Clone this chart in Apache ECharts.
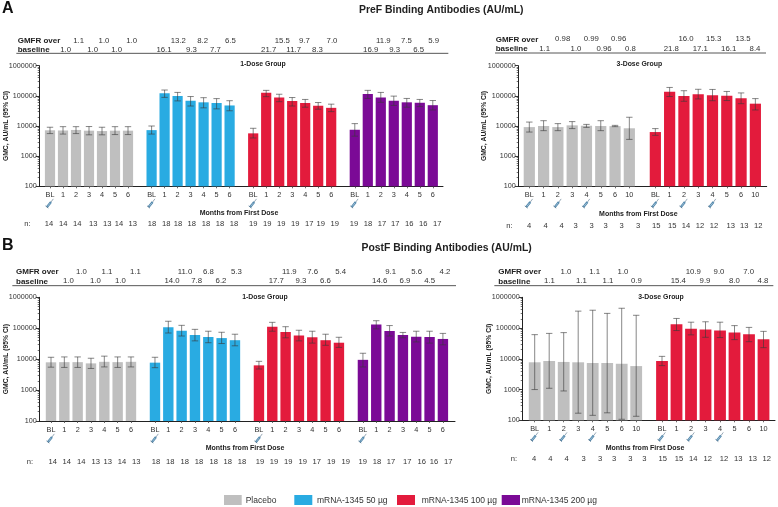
<!DOCTYPE html>
<html><head><meta charset="utf-8">
<style>html,body{margin:0;padding:0;background:#fff}#c{width:778px;height:507px;filter:blur(0.3px)}</style>
<script src="https://cdn.jsdelivr.net/npm/echarts@6/dist/echarts.min.js"></script>
</head><body><div id="c"></div>
<script>
// ---------- categories ----------
const monthsOne = ['BL','1','2','3','4','5','6'];
const monthsThree = ['BL','1','2','3','4','5','6','10'];
const seriesNames = ['Placebo','mRNA-1345 50 µg','mRNA-1345 100 µg','mRNA-1345 200 µg'];
const seriesColors = ['#bfbfbf','#29abe2','#e31b3c','#7b0a96'];
const yTicks = [100,1000,10000,100000,1000000];

// ---------- values: [GMC, lower CI, upper CI] ----------
const prefOnePlacebo = [[7200,5600,9100],[7100,5400,9500],[7400,5600,9500],[7000,5100,9600],[6800,5100,9100],[7000,5200,9500],[7000,5200,9500]];
const prefOne50 = [[7300,5400,10000],[121000,89000,156000],[99000,68000,130000],[69000,46000,95000],[61000,40000,87000],[58000,37000,81000],[48000,32000,69000]];
const prefOne100 = [[5700,4000,8400],[126000,94000,152000],[89000,64000,113000],[67000,46000,88000],[58000,42000,76000],[47000,36000,60000],[40000,30000,53000]];
const prefOne200 = [[7500,4600,12000],[115000,82000,152000],[89000,61000,130000],[69000,48000,98000],[61000,42000,82000],[59000,44000,76000],[49000,34000,70000]];
const prefThreePlacebo = [[9200,6300,13500],[10000,7000,15000],[9200,7000,12000],[10500,8200,14000],[10200,9000,11300],[10000,7000,15000],[9900,9500,10500],[8400,3600,19500]];
const prefThree100 = [[6300,4900,8200],[137000,95000,190000],[99000,66000,148000],[113000,79000,165000],[105000,69000,163000],[101000,70000,140000],[84000,55000,125000],[55000,34000,81000]];
const postfOnePlacebo = [[7900,5500,11500],[8000,5400,11800],[8000,5400,11800],[7300,5000,10700],[8200,5600,12500],[8000,5400,11800],[8200,5600,11800]];
const postfOne50 = [[7700,5300,11500],[107000,70000,168000],[83000,56000,124000],[60000,39000,92000],[52000,34000,80000],[48000,32000,74000],[41000,27000,64000]];
const postfOne100 = [[6300,4800,8500],[112000,80000,155000],[76000,49000,112000],[58000,39000,86000],[51000,33000,80000],[41000,28000,64000],[34000,24000,51000]];
const postfOne200 = [[9500,5600,15500],[131000,95000,175000],[82000,56000,122000],[60000,49000,73000],[53000,36000,80000],[52000,33000,80000],[45000,29000,68000]];
const postfThreePlacebo = [[7700,1000,61000],[8500,1100,67000],[7900,900,71000],[7700,170,355000],[7300,145,380000],[7300,175,300000],[6900,108,440000],[5800,135,260000]];
const postfThree100 = [[8500,6000,12000],[132000,83000,205000],[95000,60000,155000],[89000,50000,160000],[84000,49000,155000],[72000,42000,120000],[63000,36000,105000],[43000,23000,78000]];

// ---------- n row values ----------
const nAL = [14,14,14,13,13,14,13,18,18,18,18,18,18,18,19,19,19,19,17,19,19,19,18,17,17,16,16,17];
const nAR = [4,4,4,3,3,3,3,3,15,15,14,12,12,13,13,12];
const nBL = [14,14,14,13,13,14,13,18,18,18,18,18,18,18,19,19,19,19,17,19,19,19,18,17,17,16,16,17];
const nBR = [4,4,4,3,3,3,3,3,15,15,14,12,12,13,13,12];

// ---------- GMFR rows ----------
const gmfrALUp = ['1.1','1.0','1.0','13.2','8.2','6.5','15.5','9.7','7.0','11.9','7.5','5.9'];
const gmfrALLow = ['1.0','1.0','1.0','16.1','9.3','7.7','21.7','11.7','8.3','16.9','9.3','6.5'];
const gmfrARUp = ['0.98','0.99','0.96','16.0','15.3','13.5'];
const gmfrARLow = ['1.1','1.0','0.96','0.8','21.8','17.1','16.1','8.4'];
const gmfrBLUp = ['1.0','1.1','1.1','11.0','6.8','5.3','11.9','7.6','5.4','9.1','5.6','4.2'];
const gmfrBLLow = ['1.0','1.0','1.0','14.0','7.8','6.2','17.7','9.3','6.6','14.6','6.9','4.5'];
const gmfrBRUp = ['1.0','1.1','1.0','10.9','9.0','7.0'];
const gmfrBRLow = ['1.1','1.1','1.1','0.9','15.4','9.9','8.0','4.8'];

// ---------- layout (text columns given in 3x crop units, relative to the panel's crop origin) ----------
const FONT = '"Liberation Sans", Arial, sans-serif';
const panels = [
 {left:39.3,right:443,top:65.7,bottom:186.3,first:50,step:13,gap:1.815,barW:10.2,name:'1-Dose Group',
  groups:[[prefOnePlacebo,0],[prefOne50,1],[prefOne100,2],[prefOne200,3]],months:monthsOne,syr:[0],
  ox:0,oy:0,head:53,y1:122,y2:149,ruleY:160,ruleX:[49,1345],upX:[236,312,395,535,608,691,847,913,996,1150,1219,1301],lowX:[197,278,350,492,574,646,806,881,952,1112,1184,1256],
  up:gmfrALUp,low:gmfrALLow,n:nAL,nY:673,nLX:82,nX:[147,190,232,280,322,357,398,456,499,534,575,618,660,702,760,802,844,886,928,962,1004,1062,1104,1146,1186,1228,1270,1312],
  gtX:789,gtY:193,mX:717,mY:638,syrY:203.5,nameGap:30,labelMargin:5},
 {left:518.3,right:766.7,top:65.7,bottom:186.3,first:529.3,step:14.29,gap:1.82,barW:11.2,name:'3-Dose Group',
  groups:[[prefThreePlacebo,0],[prefThree100,2]],months:monthsThree,syr:[0,2,4],
  ox:460,oy:0,head:107,y1:118,y2:147,ruleY:159,ruleX:[105,918],upX:[308,394,476,678,761,849],lowX:[254,348,432,511,634,721,806,885],
  up:gmfrARUp,low:gmfrARLow,n:nAR,nY:678,nLX:148,nX:[207,257,305,347,395,437,485,534,589,637,678,720,762,812,853,895],
  gtX:538,gtY:193,mX:535,mY:641,syrY:203.5,nameGap:31,labelMargin:5},
 {left:39.3,right:455,top:297.3,bottom:421,first:51,step:13.33,gap:1.8,barW:10.4,name:'1-Dose Group',
  groups:[[postfOnePlacebo,0],[postfOne50,1],[postfOne100,2],[postfOne200,3]],months:monthsOne,syr:[0],
  ox:0,oy:235,head:48,y1:110,y2:139,ruleY:152,ruleX:[37,1368],upX:[244,321,406,555,625,709,868,938,1022,1172,1250,1335],lowX:[205,286,361,516,590,663,829,903,976,1139,1215,1289],
  up:gmfrBLUp,low:gmfrBLLow,n:nBL,nY:680,nLX:90,nX:[158,200,244,287,323,366,409,468,511,554,597,641,683,726,780,822,865,908,950,994,1037,1088,1131,1173,1222,1265,1302,1345],
  gtX:795,gtY:187,mX:735,mY:640,syrY:438.5,nameGap:30,labelMargin:5},
 {left:522.3,right:775,top:297.3,bottom:420.3,first:534.7,step:14.5,gap:1.78,barW:11.8,name:'3-Dose Group',
  groups:[[postfThreePlacebo,0],[postfThree100,2]],months:monthsThree,syr:[0,2,4],
  ox:460,oy:235,head:115,y1:110,y2:139,ruleY:152,ruleX:[103,940],upX:[318,404,489,700,777,866],lowX:[268,364,444,529,655,735,823,909],
  up:gmfrBRUp,low:gmfrBRLow,n:nBR,nY:673,nLX:162,nX:[222,271,320,371,420,462,511,553,608,657,700,743,792,835,878,920],
  gtX:603,gtY:187,mX:555,mY:638,syrY:437,nameGap:30,labelMargin:5}
];

const minorTicks = [];
for (let d = 100; d < 1000000; d *= 10) for (let k = 2; k <= 9; k++) minorTicks.push(d * k);

const grid = [], xAxis = [], yAxis = [], series = [], graphic = [];
const txt = (text, x, y, size, bold, align, fill) => ({type:'text', x, y, silent:true, z:50,
  style:{text, font:(bold?'bold ':'')+size+'px '+FONT, fill:fill||'#222', textAlign:align||'center', textVerticalAlign:'middle'}});

function syringe(cx, cy) {
  const line = (x1,y1,x2,y2,w,c) => ({type:'line', shape:{x1,y1,x2,y2}, style:{stroke:c,lineWidth:w}, silent:true});
  return {type:'group', x:cx, y:cy, silent:true, children:[
    line(-2.5,3.5,1.5,-1.5,2.2,'#4f86ab'),
    line(-2,2.9,0.8,-0.6,0.6,'#cfe0ec'),
    line(1.5,-1.5,3.8,-4.6,0.8,'#7d93a5'),
    line(-4,2.4,-1.2,4.6,0.8,'#4a6f8a')
  ]};
}

panels.forEach((p, pi) => {
  const width = p.right - p.left, height = p.bottom - p.top;
  grid.push({left:p.left, top:p.top, width, height, containLabel:false, outerBoundsMode:'none'});
  const tickX = [], labels = [];
  let cursor = 0;
  const bars = [];
  p.groups.forEach(([vals, colorIdx]) => {
    const pts = vals.map((v, i) => { const x = cursor + i; tickX.push(x); labels.push(p.months[i]); return [x, v[0], v[1], v[2]]; });
    bars.push({pts, colorIdx});
    p.syr.forEach(i => { graphic.push(syringe(p.first + (cursor + i) * p.step - 0.5, p.syrY)); });
    cursor += vals.length - 1 + p.gap;
  });
  xAxis.push({type:'value', gridIndex:pi, min:-(p.first - p.left)/p.step, max:(p.right - p.first)/p.step, containShape:false,
    splitLine:{show:false},
    axisLine:{show:true, onZero:false, lineStyle:{color:'#222', width:1}},
    axisTick:{show:true, length:2, customValues:tickX, lineStyle:{color:'#444', width:0.8}},
    axisLabel:{customValues:tickX, margin:p.labelMargin, fontSize:7.3, fontFamily:FONT, color:'#333', hideOverlap:false,
      formatter:(v, i) => labels[tickX.indexOf(v)] }});
  const yi = yAxis.length;
  yAxis.push({type:'log', gridIndex:pi, logBase:10, min:100, max:1000000, splitLine:{show:false}, minorTick:{show:false}, position:'left',
    name:'GMC, AU/mL (95% CI)', nameLocation:'middle', nameGap:p.nameGap, nameMoveOverlap:false,
    nameTextStyle:{fontFamily:FONT, fontSize:6.8, fontWeight:'bold', color:'#222'},
    axisLine:{show:true, onZero:false, lineStyle:{color:'#222', width:1}},
    axisTick:{show:true, length:3.5, customValues:yTicks, lineStyle:{color:'#222', width:0.9}},
    axisLabel:{customValues:yTicks, margin:2.5, fontSize:7.2, fontFamily:FONT, color:'#333', formatter:v => String(Math.round(v))}});
  yAxis.push({type:'log', gridIndex:pi, logBase:10, min:100, max:1000000, splitLine:{show:false}, position:'left', offset:0,
    axisLine:{show:false, onZero:false}, axisLabel:{show:false},
    axisTick:{show:true, length:1.6, customValues:minorTicks, lineStyle:{color:'#333', width:0.7}}});
  bars.forEach(b => {
    series.push({type:'bar', name:seriesNames[b.colorIdx], xAxisIndex:pi, yAxisIndex:yi, barWidth:p.barW, barGap:'-100%',
      itemStyle:{color:seriesColors[b.colorIdx]}, silent:true, animation:false, data:b.pts.map(q => [q[0], q[1]])});
    series.push({type:'custom', xAxisIndex:pi, yAxisIndex:yi, silent:true, animation:false, z:5, clip:false,
      encode:{x:0, y:[1,2,3]}, data:b.pts,
      renderItem:(params, api) => {
        const x = api.value(0);
        const lo = api.coord([x, api.value(2)]), hi = api.coord([x, api.value(3)]);
        const s = {stroke:'#3a3a3a', lineWidth:0.85, opacity:0.72};
        const cap = 3.2;
        return {type:'group', children:[
          {type:'line', shape:{x1:lo[0],y1:lo[1],x2:hi[0],y2:hi[1]}, style:s},
          {type:'line', shape:{x1:lo[0]-cap,y1:lo[1],x2:lo[0]+cap,y2:lo[1]}, style:s},
          {type:'line', shape:{x1:hi[0]-cap,y1:hi[1],x2:hi[0]+cap,y2:hi[1]}, style:s}
        ]};
      }});
  });
  // header rows, rule, group title, axis caption, n row
  const X = v => p.ox + v/3, Y = v => p.oy + v/3;
  graphic.push(txt('GMFR over', X(p.head), Y(p.y1), 8, true, 'left'));
  graphic.push(txt('baseline', X(p.head), Y(p.y2), 8, true, 'left'));
  p.up.forEach((t, i) => graphic.push(txt(t, X(p.upX[i]), Y(p.y1), 7.8, false, 'center', '#333')));
  p.low.forEach((t, i) => graphic.push(txt(t, X(p.lowX[i]), Y(p.y2), 7.8, false, 'center', '#333')));
  graphic.push({type:'line', silent:true, shape:{x1:X(p.ruleX[0]), y1:Y(p.ruleY), x2:X(p.ruleX[1]), y2:Y(p.ruleY)}, style:{stroke:'#444', lineWidth:0.9}});
  graphic.push(txt(p.name, X(p.gtX), Y(p.gtY), 6.9, true));
  graphic.push(txt('Months from First Dose', X(p.mX), Y(p.mY), 7, true));
  graphic.push(txt('n:', X(p.nLX), Y(p.nY), 7.6, false, 'center', '#333'));
  p.n.forEach((v, i) => graphic.push(txt(String(v), X(p.nX[i]), Y(p.nY), 7.6, false, 'center', '#333')));
});

// panel letters and titles
graphic.push(txt('A', 2, 9, 16, true, 'left', '#111'));
graphic.push(txt('B', 2, 246, 16, true, 'left', '#111'));
graphic.push(txt('PreF Binding Antibodies (AU/mL)', 359, 10.5, 10.4, true, 'left'));
graphic.push(txt('PostF Binding Antibodies (AU/mL)', 361.5, 248.5, 10.4, true, 'left'));

// legend
[[224,241.7,245.7],[294.3,312.3,317],[397,415,421.7],[501.7,520,521.7]].forEach((l, i) => {
  graphic.push({type:'rect', silent:true, shape:{x:l[0], y:495, width:l[1]-l[0], height:10}, style:{fill:seriesColors[i]}});
  graphic.push(txt(seriesNames[i], l[2], 500.5, 8.5, false, 'left', '#333'));
});

const chart = echarts.init(document.getElementById('c'), null, {renderer:'canvas', width:778, height:507});
chart.setOption({animation:false, backgroundColor:'#fff', grid, xAxis, yAxis, series, graphic});
</script></body></html>
